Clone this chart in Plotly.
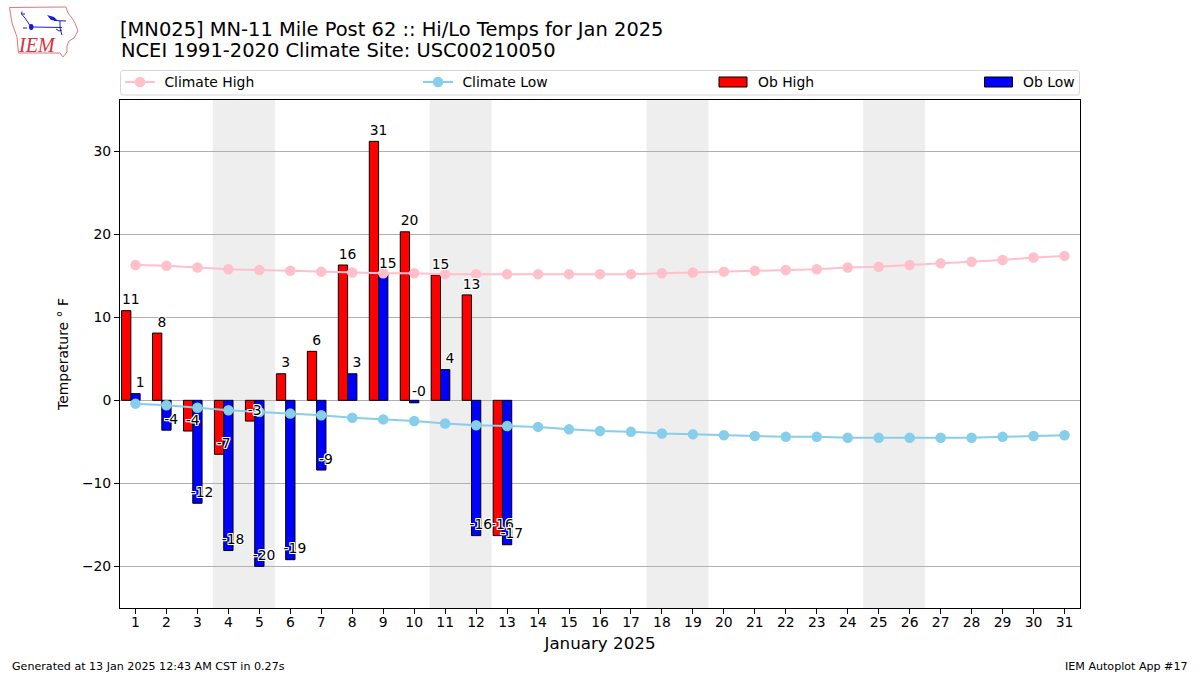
import plotly.graph_objects as go

days = list(range(1, 32))
ob_days = list(range(1, 14))
ob_high = [10.8, 8.1, -3.7, -6.5, -2.5, 3.2, 5.9, 16.3, 31.2, 20.3, 15.1, 12.7, -16.3]
ob_low = [0.8, -3.6, -12.4, -18.1, -20.0, -19.2, -8.4, 3.2, 15.2, -0.3, 3.7, -16.3, -17.4]
climate_high = [16.3, 16.2, 16.0, 15.8, 15.7, 15.6, 15.5, 15.4, 15.3, 15.3, 15.2, 15.2, 15.2, 15.2, 15.2, 15.2,
                15.2, 15.3, 15.4, 15.5, 15.6, 15.7, 15.8, 16.0, 16.1, 16.3, 16.5, 16.7, 16.9, 17.2, 17.4]
climate_low = [-0.4, -0.6, -0.9, -1.2, -1.4, -1.6, -1.8, -2.1, -2.3, -2.5, -2.8, -3.0, -3.1, -3.2, -3.5, -3.7,
               -3.8, -4.0, -4.1, -4.2, -4.3, -4.4, -4.4, -4.5, -4.5, -4.5, -4.5, -4.5, -4.4, -4.3, -4.2]
high_labels = ["11", "8", "-4", "-7", "-3", "3", "6", "16", "31", "20", "15", "13", "-16"]
low_labels = ["1", "-4", "-12", "-18", "-20", "-19", "-9", "3", "15", "-0", "4", "-16", "-17"]
weekends = [(3.5, 5.5), (10.5, 12.5), (17.5, 19.5), (24.5, 26.5)]

FONT = "DejaVu Sans"
W, H = 1200, 675
L, R, T, B = 120, 1080, 100, 608
LABEL_PAD = 0.35


def px(x):
    return (x - L) / (R - L)


def py(y):
    return (B - y) / (B - T)


fig = go.Figure()
fig.add_trace(go.Bar(x=ob_days, y=ob_high, name="Ob High", offset=-0.45, width=0.3, showlegend=False,
                     marker=dict(color="#ff0000", line=dict(color="black", width=1))))
fig.add_trace(go.Bar(x=ob_days, y=ob_low, name="Ob Low", offset=-0.15, width=0.3, showlegend=False,
                     marker=dict(color="#0000ff", line=dict(color="black", width=1))))
fig.add_trace(go.Scatter(x=days, y=climate_high, name="\u00a0Climate High", mode="lines+markers",
                         line=dict(color="#ffc0cb", width=2), marker=dict(color="#ffc0cb", size=10.5), legend="legend"))
fig.add_trace(go.Scatter(x=days, y=climate_low, name="\u00a0Climate Low", mode="lines+markers",
                         line=dict(color="#87ceeb", width=2), marker=dict(color="#87ceeb", size=10.5), legend="legend2"))
# legend entries of the bars (their swatches are the rectangles below)
fig.add_trace(go.Scatter(x=[None], y=[None], name="Ob High", mode="lines",
                         line=dict(color="rgba(0,0,0,0)", width=1), legend="legend3"))
fig.add_trace(go.Scatter(x=[None], y=[None], name="Ob Low", mode="lines",
                         line=dict(color="rgba(0,0,0,0)", width=1), legend="legend4"))
shadow = ("white 1px 0px 0.5px, white -1px 0px 0.5px, white 0px 1px 0.5px, white 0px -1px 0.5px, "
          "white 1px 1px 0.5px, white -1px -1px 0.5px, white 1px -1px 0.5px, white -1px 1px 0.5px")
fig.add_trace(go.Scatter(x=[d - 0.15 for d in ob_days], y=[v + LABEL_PAD for v in ob_high], text=high_labels, mode="text",
                         textposition="top center", showlegend=False, hoverinfo="skip",
                         textfont=dict(family=FONT, size=13.9, color="black", shadow=shadow)))
fig.add_trace(go.Scatter(x=[d + 0.15 for d in ob_days], y=[v + LABEL_PAD for v in ob_low], text=low_labels, mode="text",
                         textposition="top center", showlegend=False, hoverinfo="skip",
                         textfont=dict(family=FONT, size=13.9, color="black", shadow=shadow)))

shapes = []
for a, b in weekends:
    shapes.append(dict(type="rect", xref="x", yref="paper", x0=a, x1=b, y0=0, y1=1,
                       fillcolor="#eeeeee", line=dict(width=0), layer="below"))


def path(points, close=False):
    s = "M " + " L ".join(f"{px(x):.5f},{py(y):.5f}" for x, y in points)
    return s + (" Z" if close else "")


# rounded legend frame
x0, x1, y0, y1, rad = 120.5, 1079.5, 70.5, 95, 3
frame = (f"M {px(x0 + rad):.5f},{py(y0):.5f} L {px(x1 - rad):.5f},{py(y0):.5f} Q {px(x1):.5f},{py(y0):.5f} {px(x1):.5f},{py(y0 + rad):.5f} "
         f"L {px(x1):.5f},{py(y1 - rad):.5f} Q {px(x1):.5f},{py(y1):.5f} {px(x1 - rad):.5f},{py(y1):.5f} "
         f"L {px(x0 + rad):.5f},{py(y1):.5f} Q {px(x0):.5f},{py(y1):.5f} {px(x0):.5f},{py(y1 - rad):.5f} "
         f"L {px(x0):.5f},{py(y0 + rad):.5f} Q {px(x0):.5f},{py(y0):.5f} {px(x0 + rad):.5f},{py(y0):.5f} Z")
shapes.append(dict(type="path", xref="paper", yref="paper", path=frame,
                   line=dict(color="#d6d6d6", width=1), fillcolor="rgba(0,0,0,0)"))
# legend swatches of the bars
for sx, color in [(719, "#ff0000"), (984.5, "#0000ff")]:
    shapes.append(dict(type="rect", xref="paper", yref="paper", x0=px(sx), x1=px(sx + 28), y0=py(87), y1=py(77),
                       line=dict(color="black", width=1), fillcolor=color))

# IEM logo (state outline and the station-model glyph)
outline = [(9.5, 7.5), (66, 7), (68, 13), (72, 18), (75, 23), (78, 31), (74, 38), (69, 41), (67, 46), (67, 52),
           (63, 57), (60, 53), (18.5, 53), (17, 37), (12, 23)]
shapes.append(dict(type="path", xref="paper", yref="paper", path=path(outline, True),
                   line=dict(color="#e2747f", width=1), fillcolor="rgba(0,0,0,0)"))
glyphs = [
    [(31, 27), (62, 27.5)],
    [(31, 27), (25, 18), (21.5, 14)],
    [(22, 11.5), (21.5, 14), (25, 14)],
    [(54, 20.5), (66, 21)],
    [(60, 21), (60, 28), (62, 35)],
    [(56, 29), (59, 31), (62, 30)],
    [(23, 28), (27, 28)],
]
for g in glyphs:
    shapes.append(dict(type="path", xref="paper", yref="paper", path=path(g),
                       line=dict(color="#1a1ad6", width=1), fillcolor="rgba(0,0,0,0)"))
shapes.append(dict(type="circle", xref="paper", yref="paper", x0=px(29), x1=px(33.5), y0=py(30), y1=py(24),
                   line=dict(width=0), fillcolor="#1a1ad6"))
shapes.append(dict(type="path", xref="paper", yref="paper",
                   path=path([(47, 15), (54, 17), (58, 21), (51, 20)], True),
                   line=dict(width=0), fillcolor="#1a1ad6"))

annotations = [
    dict(text="NCEI 1991-2020 Climate Site: USC00210050", xref="paper", yref="paper", x=px(118.5), y=py(50.5),
         xanchor="left", yanchor="middle", showarrow=False, font=dict(family=FONT, size=19.44, color="black")),
    dict(text="Generated at 13 Jan 2025 12:43 AM CST in 0.27s", xref="paper", yref="paper", x=px(10), y=py(666),
         xanchor="left", yanchor="middle", showarrow=False, font=dict(family=FONT, size=11.1, color="black")),
    dict(text="IEM Autoplot App #17", xref="paper", yref="paper", x=px(1190), y=py(666),
         xanchor="right", yanchor="middle", showarrow=False, font=dict(family=FONT, size=11.1, color="black")),
    dict(text="<i>IEM</i>", xref="paper", yref="paper", x=px(37), y=py(45),
         xanchor="center", yanchor="middle", showarrow=False,
         font=dict(family="Liberation Serif", size=20, color="#d8303c")),
]


def legend_at(x):
    return dict(x=px(x), y=py(82.5), xanchor="left", yanchor="middle", orientation="v",
                bgcolor="rgba(0,0,0,0)", borderwidth=0, font=dict(family=FONT, size=13.9, color="black"),
                itemclick=False, itemdoubleclick=False)


fig.update_layout(
    width=W, height=H, autosize=False,
    margin=dict(l=L, r=W - R, t=T, b=H - B, pad=0),
    paper_bgcolor="white", plot_bgcolor="white",
    barmode="overlay", font=dict(family=FONT, size=13.9, color="black"),
    title=dict(text="[MN025] MN-11 Mile Post 62 :: Hi/Lo Temps for Jan 2025", xref="paper", x=0, xanchor="left",
               yref="container", y=1 - 29.5 / H, yanchor="middle", font=dict(family=FONT, size=19.44, color="black")),
    xaxis=dict(range=[0.5, 31.5], tickmode="array", tickvals=days, ticktext=[str(d) for d in days],
               showgrid=False, zeroline=False, showline=True, mirror=True, linecolor="black", linewidth=1,
               ticks="outside", ticklen=5, tickcolor="black", tickfont=dict(family=FONT, size=13.9),
               ticklabelstandoff=-4,
               title=dict(text="January 2025", font=dict(family=FONT, size=16.7), standoff=8)),
    yaxis=dict(range=[-25.02, 36.18], tickmode="array", tickvals=[-20, -10, 0, 10, 20, 30],
               showgrid=True, gridcolor="#b0b0b0", gridwidth=1, zeroline=False, showline=True, mirror=True,
               linecolor="black", linewidth=1, ticks="outside", ticklen=5, tickcolor="black",
               tickfont=dict(family=FONT, size=13.9),
               title=dict(text="Temperature ° F", font=dict(family=FONT, size=13.9), standoff=10)),
    legend=legend_at(120), legend2=legend_at(418), legend3=legend_at(718), legend4=legend_at(983),
    shapes=shapes, annotations=annotations,
)
fig.write_html("out.html", config={"displayModeBar": False},
               post_script="document.body.style.margin='0';document.body.style.overflow='hidden';")
